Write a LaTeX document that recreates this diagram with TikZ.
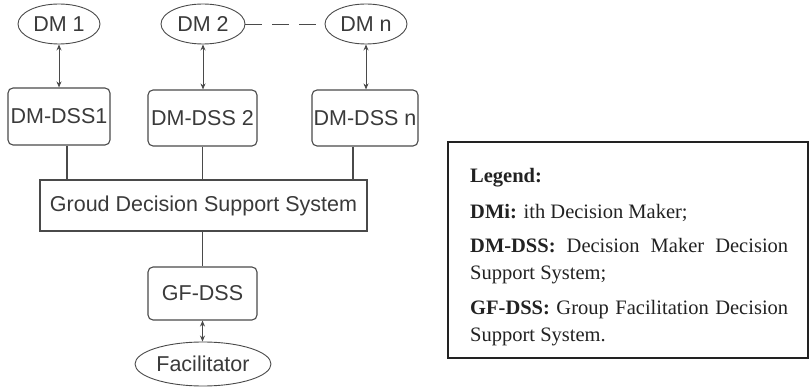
\documentclass[tikz,border=0pt]{standalone}
\usepackage{fontspec}
\setmainfont{Liberation Serif}
\newfontfamily\arialf{Liberation Sans}
\usetikzlibrary{shapes.geometric,arrows.meta}
\definecolor{linegray}{HTML}{4A4A4A}
\definecolor{txtgray}{HTML}{3A3A3A}
\definecolor{legtxt}{HTML}{222222}
\tikzset{
  dmell/.style={ellipse,draw=linegray,line width=0.9pt,inner sep=0pt,
    minimum width=82pt,minimum height=40pt,text=txtgray,
    font=\arialf\fontsize{21.5}{24}\selectfont},
  dssbox/.style={rectangle,rounded corners=5pt,draw=linegray,line width=1.1pt,
    inner sep=0pt,minimum width=106pt,minimum height=56pt,text=txtgray,
    font=\arialf\fontsize{21.5}{24}\selectfont},
  gbox/.style={rectangle,draw=linegray,line width=1.1pt,inner sep=0pt,
    minimum width=327pt,minimum height=51pt,text=txtgray,
    font=\arialf\fontsize{21.5}{24}\selectfont},
  conn/.style={draw=linegray,line width=1.1pt},
  dblarrow/.style={draw=linegray,line width=0.9pt,
    {Stealth[length=6pt,width=5pt]}-{Stealth[length=6pt,width=5pt]}},
  legline/.style={anchor=base west,inner sep=0pt,text=legtxt,
    font=\fontsize{20.5}{24}\selectfont}
}
\begin{document}
\begin{tikzpicture}[x=1pt,y=-1pt]
\useasboundingbox (0,0) rectangle (809,387);
% decision makers
\node[dmell] (dm1) at (59,24) {DM 1};
\node[dmell,minimum width=84pt] (dm2) at (203,24) {DM 2};
\node[dmell] (dmn) at (366,24) {DM n};
\draw[conn,line width=0.9pt,dash pattern=on 17pt off 10pt] (dm2.east) -- (dmn.west);
% DSS boxes
\node[dssbox,minimum width=102pt,minimum height=57pt] (dss1) at (59,116.5) {DM-DSS1};
\node[dssbox,minimum width=109pt] (dss2) at (202.5,118) {DM-DSS 2};
\node[dssbox] (dssn) at (365,118) {DM-DSS n};
\draw[dblarrow] (dm1.south) -- (dss1.north);
\draw[dblarrow] (dm2.south) -- (dm2.south |- dss2.north);
\draw[dblarrow] (dmn.south) -- (dmn.south |- dssn.north);
% group DSS
\node[gbox] (gdss) at (203.5,205.5) {Groud Decision Support System};
\draw[conn] ([xshift=8pt]dss1.south) -- ([xshift=8pt]dss1.south |- gdss.north);
\draw[conn] (dss2.south) -- (dss2.south |- gdss.north);
\draw[conn] ([xshift=-12pt]dssn.south) -- ([xshift=-12pt]dssn.south |- gdss.north);
% facilitator
\node[dssbox,minimum width=109pt,minimum height=53pt] (gf) at (202.5,293.5) {GF-DSS};
\node[dmell,minimum width=136pt,minimum height=44pt] (fac) at (203,364) {Facilitator};
\draw[conn] (gdss.south -| gf.north) -- (gf.north);
\draw[dblarrow] (gf.south) -- (gf.south |- fac.north);
% legend
\node[rectangle,draw=legtxt,line width=1.5pt,inner sep=0pt,
  minimum width=360pt,minimum height=216pt] (leg) at (628,250) {};
\node[legline] (l1) at (470,183) {\textbf{Legend:}};
\node[legline] (l2) at (470,219) {\textbf{DMi:} ith Decision Maker;};
\node[legline] (l3) at (470,253) {\makebox[318pt][s]{\textbf{DM-DSS:}\hfill Decision\hfill Maker\hfill Decision}};
\node[legline] (l4) at (470,280) {Support System;};
\node[legline] (l5) at (470,315) {\makebox[318pt][s]{\textbf{GF-DSS:}\hfill Group\hfill Facilitation\hfill Decision}};
\node[legline] (l6) at (470,342) {Support System.};
\end{tikzpicture}
\end{document}
